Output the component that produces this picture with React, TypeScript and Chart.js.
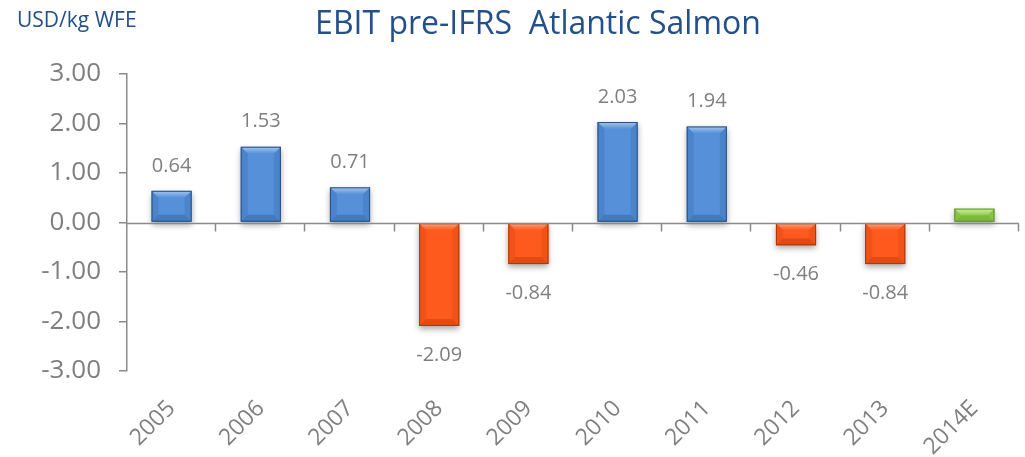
import React, { useEffect, useRef } from 'react';
import { Chart, registerables } from 'chart.js';
Chart.register(...registerables);

const categories = ['2005', '2006', '2007', '2008', '2009', '2010', '2011', '2012', '2013', '2014E'];
const ebitValues = [0.64, 1.53, 0.71, -2.09, -0.84, 2.03, 1.94, -0.46, -0.84, 0.28];
const valueLabels = ['0.64', '1.53', '0.71', '-2.09', '-0.84', '2.03', '1.94', '-0.46', '-0.84', ''];
const yMin = -3;
const yMax = 3;
const yStep = 1;
const chartTitle = 'EBIT pre-IFRS  Atlantic Salmon';
const unitLabel = 'USD/kg WFE';

const FONT = '"Open Sans", "DejaVu Sans", sans-serif';
const GREY = '#7f7f7f';
const AXIS = '#8a8a8a';
const TITLE_COLOR = '#23508a';

type Palette = { fill: string; light: string; dark: string; border: string };
const BLUE: Palette = { fill: '#5590d8', light: '#a4c8f0', dark: '#3f74b8', border: '#2a4f80' };
const ORANGE: Palette = { fill: '#ff5a1e', light: '#ffa27a', dark: '#d9460f', border: '#a8380c' };
const GREEN: Palette = { fill: '#92d050', light: '#cbefa0', dark: '#78b038', border: '#5f8f2c' };

function palette(i: number): Palette {
  if (categories[i].endsWith('E')) return GREEN;
  return ebitValues[i] >= 0 ? BLUE : ORANGE;
}

function barRect(el: any) {
  const w = el.width;
  const left = el.x - w / 2;
  const right = el.x + w / 2;
  const top = Math.min(el.y, el.base);
  const bottom = Math.max(el.y, el.base);
  return { left, right, top, bottom };
}

const decorPlugin = {
  id: 'decor',
  beforeDatasetsDraw(chart: any) {
    const ctx = chart.ctx;
    const meta = chart.getDatasetMeta(0);
    ctx.save();
    meta.data.forEach((el: any, i: number) => {
      const r = barRect(el);
      ctx.shadowColor = 'rgba(0,0,0,0.35)';
      ctx.shadowBlur = 6;
      ctx.shadowOffsetX = 0;
      ctx.shadowOffsetY = 3;
      ctx.fillStyle = palette(i).fill;
      ctx.fillRect(r.left, r.top, r.right - r.left, r.bottom - r.top);
    });
    ctx.restore();
  },
  afterDatasetsDraw(chart: any) {
    const ctx = chart.ctx;
    const meta = chart.getDatasetMeta(0);
    const xs = chart.scales.x;
    const ys = chart.scales.y;
    const area = chart.chartArea;
    ctx.save();
    meta.data.forEach((el: any, i: number) => {
      const p = palette(i);
      const { left: l, right: rr, top: t, bottom: b } = barRect(el);
      const bv = Math.min(7, (b - t) / 2);
      const gTop = ctx.createLinearGradient(0, t, 0, t + bv);
      gTop.addColorStop(0, p.light);
      gTop.addColorStop(1, p.fill);
      ctx.fillStyle = gTop;
      ctx.beginPath();
      ctx.moveTo(l, t); ctx.lineTo(rr, t); ctx.lineTo(rr - bv, t + bv); ctx.lineTo(l + bv, t + bv); ctx.closePath();
      ctx.fill();
      ctx.fillStyle = p.dark;
      ctx.globalAlpha = 0.8;
      ctx.beginPath();
      ctx.moveTo(l, b); ctx.lineTo(rr, b); ctx.lineTo(rr - bv, b - bv); ctx.lineTo(l + bv, b - bv); ctx.closePath();
      ctx.fill();
      ctx.globalAlpha = 0.4;
      ctx.beginPath();
      ctx.moveTo(l, t); ctx.lineTo(l + bv, t + bv); ctx.lineTo(l + bv, b - bv); ctx.lineTo(l, b); ctx.closePath();
      ctx.fill();
      ctx.beginPath();
      ctx.moveTo(rr, t); ctx.lineTo(rr - bv, t + bv); ctx.lineTo(rr - bv, b - bv); ctx.lineTo(rr, b); ctx.closePath();
      ctx.fill();
      ctx.globalAlpha = 1;
      ctx.strokeStyle = p.border;
      ctx.lineWidth = 1;
      ctx.strokeRect(l + 0.5, t + 0.5, rr - l - 1, b - t - 1);
    });
    // zero line with category tick marks
    const y0 = Math.round(ys.getPixelForValue(0)) + 0.5;
    ctx.strokeStyle = AXIS;
    ctx.lineWidth = 1.5;
    ctx.beginPath();
    ctx.moveTo(area.left, y0);
    ctx.lineTo(area.right, y0);
    const step = (area.right - area.left) / categories.length;
    for (let i = 1; i <= categories.length; i++) {
      const x = Math.round(xs.getPixelForValue(i - 1) + step / 2) - 0.5;
      ctx.moveTo(x, y0);
      ctx.lineTo(x, y0 + 8);
    }
    ctx.stroke();
    // value labels
    ctx.fillStyle = GREY;
    ctx.font = '20px ' + FONT;
    ctx.textAlign = 'center';
    ctx.textBaseline = 'middle';
    meta.data.forEach((el: any, i: number) => {
      const txt = valueLabels[i];
      if (!txt) return;
      const v = ebitValues[i];
      const y = v >= 0 ? el.y - 25 : el.y + 29;
      ctx.fillText(txt, el.x, y);
    });
    ctx.restore();
  },
  afterDraw(chart: any) {
    const ctx = chart.ctx;
    ctx.save();
    ctx.fillStyle = TITLE_COLOR;
    ctx.textBaseline = 'alphabetic';
    ctx.textAlign = 'left';
    ctx.font = '21px ' + FONT;
    ctx.fillText(unitLabel, 17, 27);
    ctx.textAlign = 'center';
    ctx.font = '32px ' + FONT;
    ctx.fillText(chartTitle, 538, 34);
    ctx.restore();
  },
};

export default function App() {
  const ref = useRef<HTMLCanvasElement | null>(null);
  useEffect(() => {
    if (!ref.current) return;
    const chart = new Chart(ref.current, {
      type: 'bar',
      data: {
        labels: categories,
        datasets: [
          {
            data: ebitValues,
            backgroundColor: 'rgba(0,0,0,0)',
            borderWidth: 0,
            barPercentage: 0.45,
            categoryPercentage: 1,
          },
        ],
      },
      options: {
        responsive: false,
        animation: false,
        events: [],
        layout: { padding: { left: 0, top: 74, right: 6, bottom: 0 } },
        plugins: { legend: { display: false }, tooltip: { enabled: false }, title: { display: false } },
        scales: {
          x: {
            offset: true,
            grid: { display: false },
            border: { display: false },
            ticks: {
              color: GREY,
              font: { family: FONT, size: 23 },
              minRotation: 45,
              maxRotation: 45,
              padding: 16,
              autoSkip: false,
            },
            afterFit: (s: any) => { s.height = 86; },
          },
          y: {
            min: yMin,
            max: yMax,
            grid: { display: true, drawOnChartArea: false, drawTicks: true, tickLength: 8, color: AXIS, lineWidth: 1.5 },
            border: { display: true, color: AXIS, width: 1.5 },
            ticks: {
              stepSize: yStep,
              color: GREY,
              font: { family: FONT, size: 26 },
              padding: 18,
              callback: (v: any) => Number(v).toFixed(2),
            },
            afterFit: (s: any) => { s.width = 127; },
          },
        },
      },
      plugins: [decorPlugin],
    });
    return () => chart.destroy();
  }, []);
  return (
    <canvas
      ref={ref}
      width={1025}
      height={457}
      style={{ position: 'absolute', left: 0, top: 0, width: 1025, height: 457 }}
    />
  );
}
